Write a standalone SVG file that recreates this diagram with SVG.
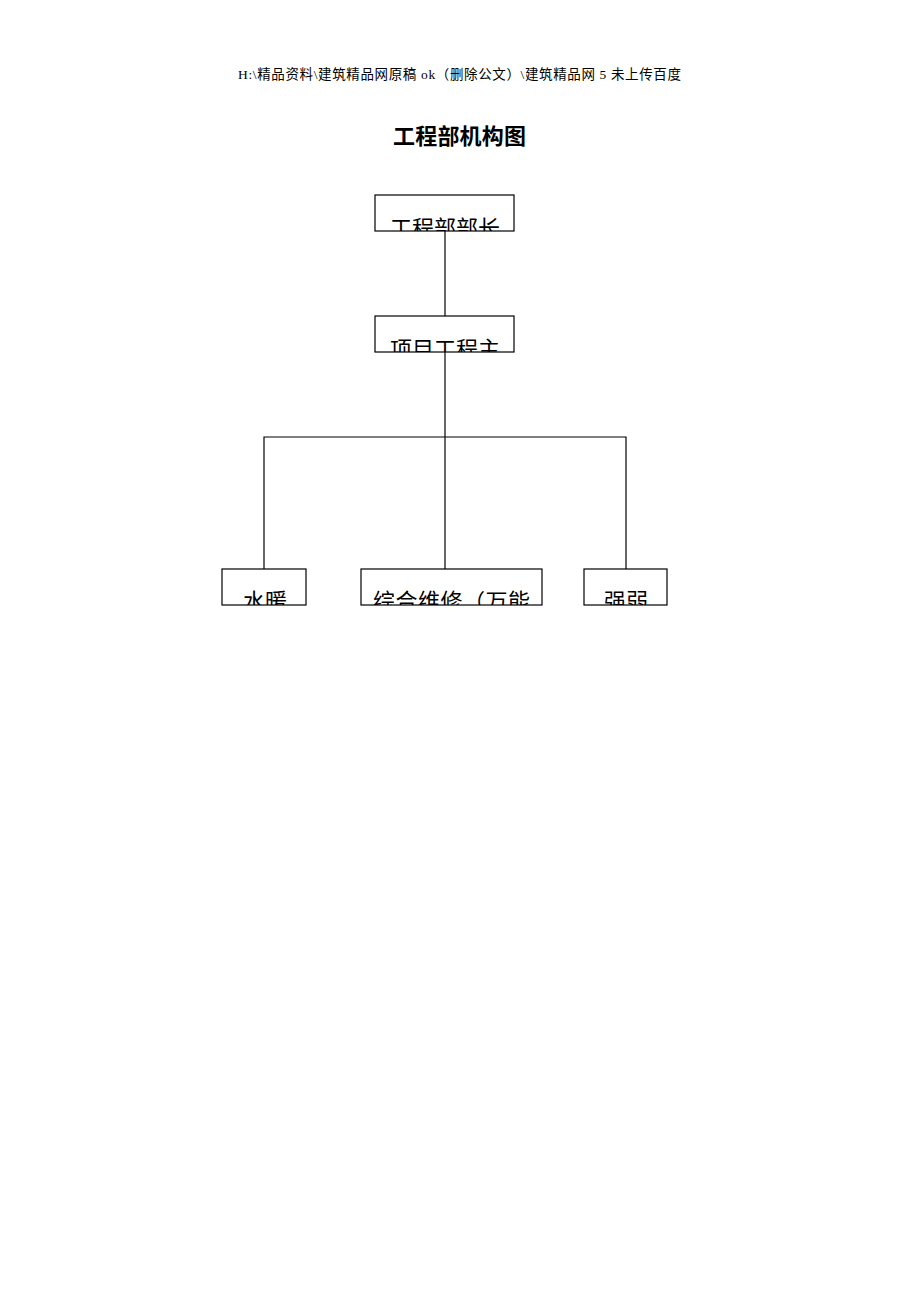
<svg xmlns="http://www.w3.org/2000/svg" width="920" height="1302" viewBox="0 0 920 1302">
<style>
.box{fill:#fff;stroke:#000;stroke-width:1.2}
.lbl{font-family:"Noto Sans CJK SC","Noto Sans",sans-serif;font-size:22px;fill:#000}
.conn{fill:none;stroke:#000;stroke-width:1.2}
.hdr{font-family:"Liberation Serif","Noto Sans CJK SC",serif;font-size:13.5px;fill:#000}
.ttl{font-family:"Noto Sans CJK SC",sans-serif;font-size:22px;font-weight:bold;fill:#000}
</style>
<defs>
<clipPath id="c1"><rect x="375" y="195" width="139" height="36"/></clipPath>
<clipPath id="c2"><rect x="375" y="316" width="139" height="36"/></clipPath>
<clipPath id="c3"><rect x="222" y="569" width="84" height="36"/></clipPath>
<clipPath id="c4"><rect x="361" y="569" width="181" height="36"/></clipPath>
<clipPath id="c5"><rect x="584" y="569" width="83" height="36"/></clipPath>
</defs>
<rect width="920" height="1302" fill="#fff"/>
<text class="hdr" x="238" y="79" textLength="443">H:\精品资料\建筑精品网原稿 ok（删除公文）\建筑精品网 5 未上传百度</text>
<text class="ttl" x="393" y="144" textLength="133">工程部机构图</text>
<g id="connectors">
<path class="conn" d="M445 231V316"/>
<path class="conn" d="M445 352V569"/>
<path class="conn" d="M264 569V437H626V569"/>
</g>
<g id="n1">
<rect class="box" x="375" y="195" width="139" height="36"/>
<text class="lbl" x="390" y="236" clip-path="url(#c1)" textLength="110">工程部部长</text>
</g>
<g id="n2">
<rect class="box" x="375" y="316" width="139" height="36"/>
<text class="lbl" x="390" y="357" clip-path="url(#c2)" textLength="110">项目工程主</text>
</g>
<g id="n3">
<rect class="box" x="222" y="569" width="84" height="36"/>
<text class="lbl" x="243" y="609" clip-path="url(#c3)">水暖</text>
</g>
<g id="n4">
<rect class="box" x="361" y="569" width="181" height="36"/>
<text class="lbl" x="373" y="609" clip-path="url(#c4)" textLength="157">综合维修（万能</text>
</g>
<g id="n5">
<rect class="box" x="584" y="569" width="83" height="36"/>
<text class="lbl" x="604" y="609" clip-path="url(#c5)">强弱</text>
</g>
</svg>
